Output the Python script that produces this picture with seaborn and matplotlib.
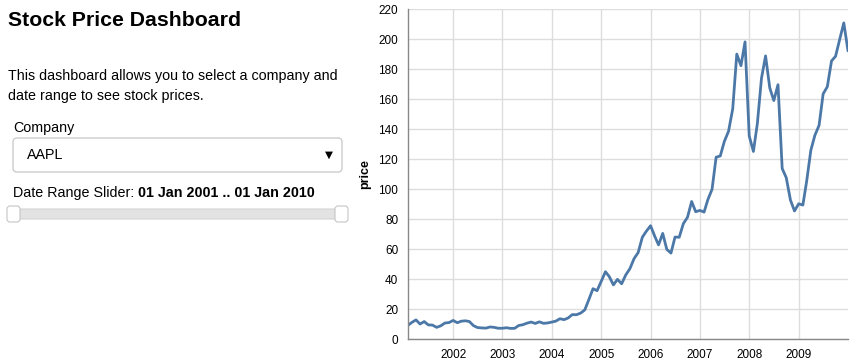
import matplotlib
matplotlib.use("Agg")
import matplotlib.pyplot as plt
import matplotlib.dates as mdates
from matplotlib.patches import FancyBboxPatch
from matplotlib.transforms import IdentityTransform
import seaborn as sns
import pandas as pd

company = "AAPL"
title = "Stock Price Dashboard"
description = ["This dashboard allows you to select a company and", "date range to see stock prices."]
start_label = "01 Jan 2001"
end_label = "01 Jan 2010"

prices = [
    9.12, 11.03, 12.74, 9.98, 11.62, 9.4, 9.27, 7.76, 8.78, 10.65, 10.95,          # 2001 Feb-Dec
    12.36, 10.85, 11.84, 12.14, 11.65, 8.86, 7.63, 7.38, 7.25, 8.03, 7.75, 7.16,   # 2002
    7.18, 7.51, 7.07, 7.11, 8.98, 9.53, 10.54, 11.31, 10.36, 11.44, 10.45, 10.69,  # 2003
    11.28, 11.96, 13.52, 12.89, 14.03, 16.27, 16.17, 17.25, 19.38, 26.2, 33.53, 32.2,  # 2004
    38.45, 44.86, 41.67, 36.06, 39.76, 36.81, 42.65, 46.89, 53.61, 57.59, 67.82, 71.89,  # 2005
    75.51, 68.49, 62.72, 70.39, 59.77, 57.27, 67.96, 67.85, 76.98, 81.08, 91.66, 84.84,  # 2006
    85.73, 84.61, 92.91, 99.8, 121.19, 122.04, 131.76, 138.48, 153.47, 189.95, 182.22, 198.08,  # 2007
    135.36, 125.02, 143.5, 173.95, 188.75, 167.44, 158.95, 169.53, 113.66, 107.59, 92.67, 85.35,  # 2008
    90.13, 89.31, 105.12, 125.83, 135.81, 142.43, 163.39, 168.21, 185.35, 188.5, 199.91, 210.73,  # 2009
    192.06,  # 2010 Jan
]
dates = pd.date_range("2001-02-01", periods=len(prices), freq="MS")
years = list(range(2002, 2010))
yticks = list(range(0, 221, 20))

sns.set_style("white")
plt.rcParams["font.family"] = ["Liberation Sans", "DejaVu Sans"]
plt.rcParams["text.color"] = "black"
plt.rcParams["axes.labelcolor"] = "black"

W, H = 867, 363
fig = plt.figure(figsize=(W / 100, H / 100), dpi=100)

def fx(x):
    return x / W

def fy(y):
    return 1 - y / H

FS = 10.3

# Left panel texts
fig.text(fx(8), fy(20), title, fontsize=15.3, fontweight="bold", va="center", ha="left")
fig.text(fx(8), fy(76), description[0], fontsize=FS, va="center", ha="left")
fig.text(fx(8), fy(96), description[1], fontsize=FS, va="center", ha="left")
fig.text(fx(13), fy(128), "Company", fontsize=FS, va="center", ha="left")

ident = IdentityTransform()
# dropdown box
box = FancyBboxPatch((13, H - 172), 329, 34, boxstyle="round,pad=0,rounding_size=4",
                     transform=ident, facecolor="white", edgecolor="#cccccc", linewidth=1)
fig.patches.append(box)
fig.text(fx(27), fy(155), company, fontsize=FS, va="center", ha="left")
fig.text(fx(329), fy(155), "\u25BC", fontsize=7.5, va="center", ha="center",
         family=["DejaVu Sans"])

# slider label
t1 = fig.text(fx(13), fy(193), "Date Range Slider: ", fontsize=FS, va="center", ha="left")
fig.canvas.draw()
bb = t1.get_window_extent()
fig.text(bb.x1 / W, fy(193), f"{start_label} .. {end_label}", fontsize=FS,
         fontweight="bold", va="center", ha="left")

# slider track
track = FancyBboxPatch((8, H - 219), 339, 10, boxstyle="round,pad=0,rounding_size=2",
                       transform=ident, facecolor="#e3e3e3", edgecolor="#d3d3d3", linewidth=0.8)
fig.patches.append(track)
for hx in (7, 335):
    h = FancyBboxPatch((hx, H - 222), 13, 16, boxstyle="round,pad=0,rounding_size=3",
                       transform=ident, facecolor="white", edgecolor="#c5c5c5", linewidth=0.8)
    fig.patches.append(h)

# chart
ax = fig.add_axes([fx(408), fy(339), 440 / W, 330 / H])
df = pd.DataFrame({"date": dates, "price": prices})
sns.lineplot(data=df, x="date", y="price", ax=ax, color="#4c78a8", linewidth=2)
ax.set_xlim(pd.Timestamp("2001-02-01"), pd.Timestamp("2010-01-01"))
ax.set_ylim(0, 220)
ax.set_yticks(yticks)
ax.set_xticks([pd.Timestamp(f"{y}-01-01") for y in years])
ax.xaxis.set_major_formatter(mdates.DateFormatter("%Y"))
ax.grid(True, color="#dddddd", linewidth=1)
ax.set_axisbelow(True)
for s in ("top", "right"):
    ax.spines[s].set_visible(False)
for s in ("left", "bottom"):
    ax.spines[s].set_color("#888888")
    ax.spines[s].set_linewidth(1)
ax.tick_params(axis="both", length=5, width=1, color="#888888", labelsize=8.5, pad=2,
               labelcolor="#000000")
ax.set_xlabel("")
ax.set_ylabel("price", fontsize=9, fontweight="bold", labelpad=5)

fig.savefig("out.png", dpi=100)
